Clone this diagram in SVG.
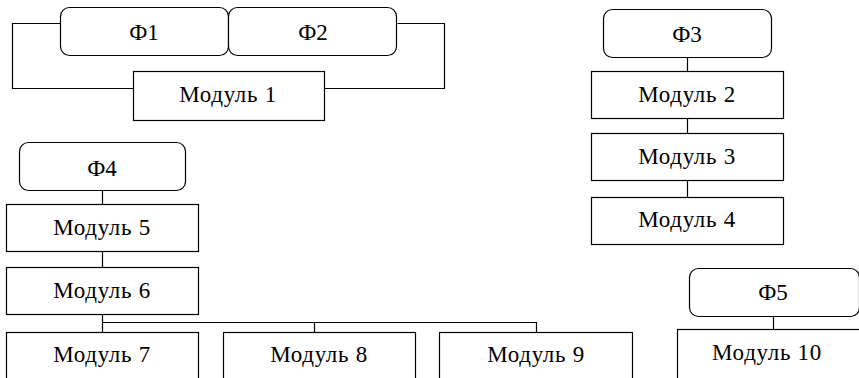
<svg xmlns="http://www.w3.org/2000/svg" width="859" height="378" viewBox="0 0 859 378">
<style>
.b{fill:#fff;stroke:#000;stroke-width:1.2}
.c{fill:none;stroke:#000;stroke-width:1.2}
text{font-family:"Liberation Serif","Times New Roman",serif;font-size:23px;fill:#000;text-anchor:middle}
.m{letter-spacing:0.7px}
</style>
<rect width="859" height="378" fill="#fff"/>
<g id="connectors">
<path class="c" d="M60.5 23.5H12.5V88.5H133.5"/>
<path class="c" d="M397.5 23.5H444.5V88.5H324.5"/>
<path class="c" d="M687.5 57V71M687.5 118V133M687.5 181V197"/>
<path class="c" d="M102.5 190V204M102.5 252V267M102.5 314V332"/>
<path class="c" d="M102.5 322.5H536.5V332M314.5 322.5V332"/>
<path class="c" d="M773.5 317V329"/>
</g>
<g id="f1"><rect class="b" x="60.5" y="7.5" width="168" height="48" rx="9"/><text x="144" y="40">Ф1</text></g>
<g id="f2"><rect class="b" x="228.5" y="7.5" width="168" height="48" rx="9"/><text x="313" y="40">Ф2</text></g>
<g id="m1"><rect class="b" x="133.5" y="71.5" width="191" height="49"/><text class="m" x="228" y="102">Модуль 1</text></g>
<g id="f3"><rect class="b" x="603.5" y="9.5" width="168" height="48" rx="9"/><text x="687" y="42">Ф3</text></g>
<g id="m2"><rect class="b" x="591.5" y="71.5" width="192" height="47"/><text class="m" x="687" y="102">Модуль 2</text></g>
<g id="m3"><rect class="b" x="591.5" y="133.5" width="192" height="47"/><text class="m" x="687" y="164">Модуль 3</text></g>
<g id="m4"><rect class="b" x="591.5" y="197.5" width="192" height="47"/><text class="m" x="687" y="227">Модуль 4</text></g>
<g id="f4"><rect class="b" x="19.5" y="142.5" width="166" height="48" rx="9"/><text x="102" y="176">Ф4</text></g>
<g id="m5"><rect class="b" x="6.5" y="204.5" width="192" height="47"/><text class="m" x="102" y="235">Модуль 5</text></g>
<g id="m6"><rect class="b" x="6.5" y="267.5" width="192" height="47"/><text class="m" x="102" y="298">Модуль 6</text></g>
<g id="m7"><rect class="b" x="6.5" y="332.5" width="192" height="48"/><text class="m" x="102" y="362">Модуль 7</text></g>
<g id="m8"><rect class="b" x="223.5" y="332.5" width="192" height="48"/><text class="m" x="319" y="362">Модуль 8</text></g>
<g id="m9"><rect class="b" x="439.5" y="332.5" width="193" height="48"/><text class="m" x="536" y="362">Модуль 9</text></g>
<g id="f5"><rect class="b" x="689.5" y="268.5" width="170" height="48" rx="9"/><text x="773" y="300">Ф5</text></g>
<g id="m10"><rect class="b" x="677.5" y="329.5" width="183" height="50"/><text class="m" x="767" y="360">Модуль 10</text></g>
</svg>
